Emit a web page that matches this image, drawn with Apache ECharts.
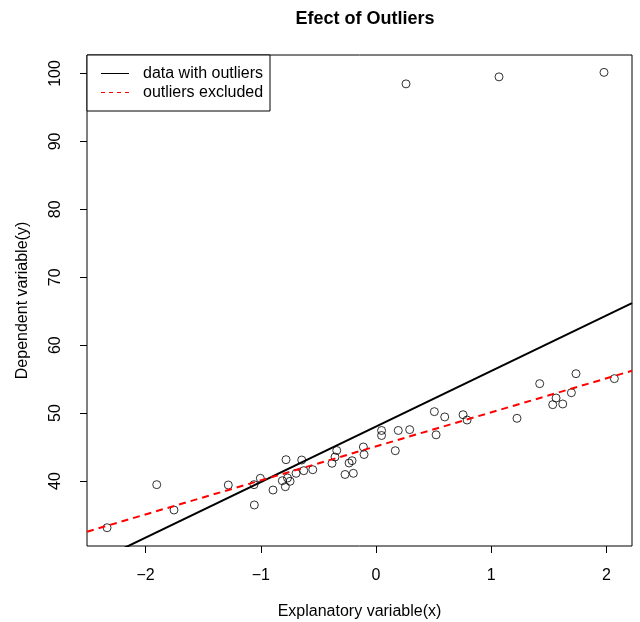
<!DOCTYPE html>
<html>
<head>
<meta charset="utf-8">
<script src="https://cdn.jsdelivr.net/npm/echarts@6/dist/echarts.min.js"></script>
<style>
html,body{margin:0;padding:0;background:#fff;}
#chart{width:640px;height:622px;}
</style>
</head>
<body>
<div id="chart"></div>
<script>
// Regular observations
const xData = [-2.334,-1.903,-1.753,-1.282,-1.059,-1.056,-1.004,-0.894,-0.813,-0.787,-0.746,-0.768,-0.781,-0.645,-0.694,-0.627,-0.549,-0.382,-0.356,-0.341,-0.234,-0.208,-0.269,-0.197,-0.110,-0.104,0.048,0.048,0.167,0.193,0.292,0.506,0.521,0.596,0.755,0.790,1.223,1.420,1.533,1.562,1.620,1.695,1.735,2.068];
const yData = [33.12,39.46,35.73,39.41,39.46,36.47,40.40,38.67,40.04,39.16,39.96,40.44,43.14,43.09,41.13,41.52,41.66,42.61,43.53,44.49,42.65,42.99,40.96,41.13,45.01,43.90,47.44,46.70,44.46,47.44,47.56,50.21,46.80,49.43,49.76,48.98,49.23,54.33,51.24,52.22,51.34,53.00,55.80,55.07];
// Outliers
const xOut = [0.260,1.067,1.978];
const yOut = [98.47,99.50,100.16];
// Fitted lines (intercept, slope)
const fitWith = [48.02, 8.18];
const fitWithout = [45.10, 5.01];
// Axis ranges and ticks
const xRange = [-2.508, 2.221];
const yRange = [30.43, 102.72];
const xTicks = [-2,-1,0,1,2];
const yTicks = [40,50,60,70,80,90,100];
const legendNames = ['data with outliers','outliers excluded'];

const pts = xData.map((x,i)=>[x,yData[i]]).concat(xOut.map((x,i)=>[x,yOut[i]]));
const lineOf = f => xRange.map(x => [x, f[0] + f[1]*x]);

const FONT = 'Liberation Sans, Arial, Helvetica, sans-serif';
const chart = echarts.init(document.getElementById('chart'), null, {renderer:'canvas'});
chart.setOption({
  animation:false,
  backgroundColor:'#fff',
  title:{text:'Efect of Outliers', left:360, top:5, textAlign:'center',
    textStyle:{fontFamily:FONT, fontSize:18, fontWeight:'bold', color:'#000'}},
  grid:{left:87, right:8, top:55, bottom:76, show:true, borderColor:'#000', borderWidth:1,
    backgroundColor:'transparent', containLabel:false, outerBoundsMode:'none'},
  xAxis:{type:'value', min:xRange[0], max:xRange[1],
    name:'Explanatory variable(x)', nameLocation:'middle', nameGap:58,
    nameTextStyle:{fontFamily:FONT, fontSize:16, color:'#000'},
    axisLine:{show:false, onZero:false},
    axisTick:{show:true, length:7, inside:false, customValues:xTicks, lineStyle:{color:'#000'}},
    axisLabel:{customValues:xTicks, margin:22, fontFamily:FONT, fontSize:16, color:'#000',
      formatter:v=>String(v).replace('-','\u2212')},
    splitLine:{show:false}},
  yAxis:{type:'value', min:yRange[0], max:yRange[1],
    name:'Dependent variable(y)', nameLocation:'middle', nameGap:56,
    nameTextStyle:{fontFamily:FONT, fontSize:16, color:'#000'},
    axisLine:{show:false, onZero:false},
    axisTick:{show:true, length:7, customValues:yTicks, lineStyle:{color:'#000'}},
    axisLabel:{customValues:yTicks, rotate:90, margin:23, fontFamily:FONT, fontSize:16, color:'#000'},
    splitLine:{show:false}},
  series:[
    {type:'scatter', data:pts, symbol:'circle', symbolSize:8,
      itemStyle:{color:'transparent', borderColor:'#000', borderWidth:1}, silent:true},
    {type:'line', name:legendNames[0], data:lineOf(fitWith), showSymbol:false, clip:true,
      lineStyle:{color:'#000', width:2}, silent:true},
    {type:'line', name:legendNames[1], data:lineOf(fitWithout), showSymbol:false, clip:true,
      lineStyle:{color:'#ff0000', width:2, type:[7,5]}, silent:true}
  ],
  graphic:[
    {type:'rect', shape:{x:87, y:55, width:183, height:56}, style:{fill:'#fff', stroke:'#000', lineWidth:1}, z:100},
    {type:'line', shape:{x1:101, y1:73.5, x2:129, y2:73.5}, style:{stroke:'#000', lineWidth:1}, z:101},
    {type:'line', shape:{x1:101, y1:92.5, x2:129, y2:92.5}, style:{stroke:'#ff0000', lineWidth:1, lineDash:[4,4]}, z:101},
    {type:'text', x:143, y:73.5, style:{text:legendNames[0], fontFamily:FONT, fontSize:16, fill:'#000', textVerticalAlign:'middle'}, z:101},
    {type:'text', x:143, y:92.5, style:{text:legendNames[1], fontFamily:FONT, fontSize:16, fill:'#000', textVerticalAlign:'middle'}, z:101}
  ]
});
</script>
</body>
</html>
